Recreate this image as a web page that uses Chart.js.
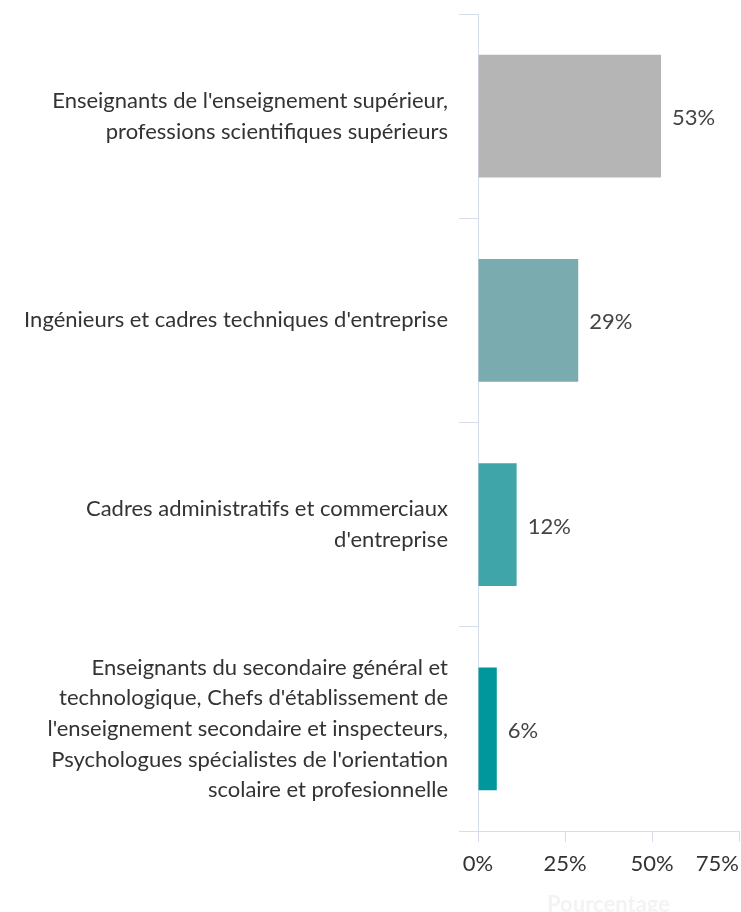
<!DOCTYPE html>
<html>
<head>
<meta charset="utf-8">
<script src="https://cdn.jsdelivr.net/npm/chart.js@4/dist/chart.umd.min.js"></script>
<style>
html,body{margin:0;padding:0;background:#fff;}
#wrap{width:741px;height:912px;}
</style>
</head>
<body>
<div id="wrap"><canvas id="c" width="741" height="912"></canvas></div>
<script>
const categories = [
  ["Enseignants de l'enseignement supérieur,", "professions scientifiques supérieurs"],
  ["Ingénieurs et cadres techniques d'entreprise"],
  ["Cadres administratifs et commerciaux", "d'entreprise"],
  ["Enseignants du secondaire général et", "technologique, Chefs d'établissement de", "l'enseignement secondaire et inspecteurs,", "Psychologues spécialistes de l'orientation", "scolaire et profesionnelle"]
];
const values = [52.6, 28.8, 11.1, 5.4];
const valueLabels = ["53%", "29%", "12%", "6%"];
const barColors = ["#b5b5b5", "#7aacaf", "#3fa5a8", "#00979c"];
const xTicks = [0, 25, 50, 75];
const axisTitle = "Pourcentage";

const FONT = "Lato, 'Open Sans', sans-serif";
const FS = 22;
const gridColor = "#d5dcec";

const valueLabelPlugin = {
  id: 'valueLabels',
  beforeDraw(chart) {
    // keep the last x tick label inside the canvas, right-aligned to the edge
    const sx = chart.scales.x;
    const items = sx.getLabelItems(chart.chartArea);
    const last = items[items.length - 1];
    if (last) {
      last.options.textAlign = 'right';
      last.options.translation[0] = sx.right;
    }
  },
  afterDatasetsDraw(chart) {
    const ctx = chart.ctx;
    const meta = chart.getDatasetMeta(0);
    ctx.save();
    ctx.font = FS + "px " + FONT;
    ctx.fillStyle = "#444";
    ctx.textAlign = "left";
    ctx.textBaseline = "middle";
    meta.data.forEach((bar, i) => {
      ctx.fillText(valueLabels[i], bar.x + 11, bar.y + 2);
    });
    ctx.restore();
  }
};

new Chart(document.getElementById('c'), {
  type: 'bar',
  data: {
    labels: categories,
    datasets: [{
      data: values,
      backgroundColor: barColors,
      borderWidth: 0,
      barPercentage: 0.6,
      categoryPercentage: 1
    }]
  },
  options: {
    indexAxis: 'y',
    responsive: false,
    animation: false,
    layout: { padding: { top: 14, right: 2, bottom: 0, left: 0 } },
    plugins: {
      legend: { display: false },
      tooltip: { enabled: false }
    },
    scales: {
      x: {
        min: 0,
        max: 75,
        afterBuildTicks(scale) { scale.ticks = xTicks.map(v => ({ value: v })); },
        afterFit(scale) { scale.height = 81; scale.paddingLeft = 0; scale.paddingRight = 0; },
        ticks: {
          font: { family: FONT, size: FS },
          color: "#333",
          padding: 9,
          maxRotation: 0,
          callback: v => v + "%"
        },
        grid: { drawOnChartArea: false, color: gridColor, tickLength: 11, lineWidth: 1 },
        border: { color: gridColor, width: 1 },
        title: {
          display: true,
          text: axisTitle,
          color: "#f3f3f3",
          font: { family: FONT, size: FS, weight: 'bold', lineHeight: 1 },
          padding: { top: 0, bottom: -4 }
        }
      },
      y: {
        afterFit(scale) { scale.width = 478; scale.paddingTop = 0; scale.paddingBottom = 0; },
        ticks: {
          font: { family: FONT, size: FS, lineHeight: 1.39 },
          color: "#333",
          padding: 11,
          crossAlign: 'near'
        },
        grid: { drawOnChartArea: false, offset: true, color: gridColor, tickLength: 19 },
        border: { color: gridColor, width: 1 }
      }
    }
  },
  plugins: [valueLabelPlugin]
});
</script>
</body>
</html>
